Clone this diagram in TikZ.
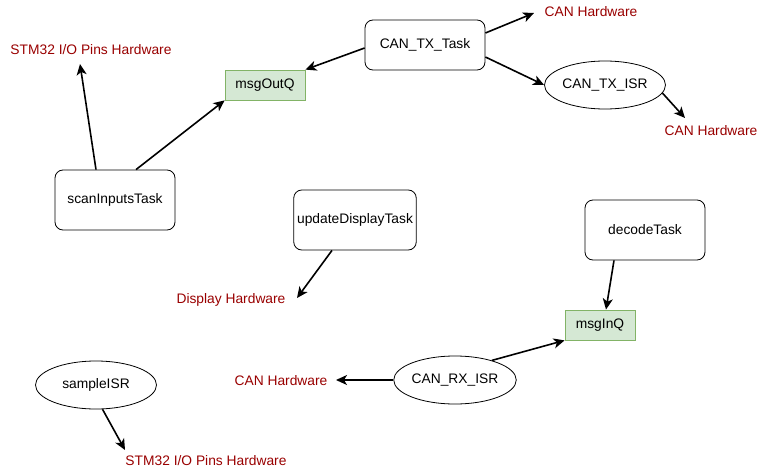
\documentclass[tikz,border=0pt]{standalone}
\usepackage{fontspec}
\setmainfont{Liberation Sans}
\usetikzlibrary{arrows.meta,shapes.geometric}
\definecolor{ink}{RGB}{0,0,0}
\definecolor{hwred}{RGB}{153,0,0}
\definecolor{qfill}{RGB}{213,232,212}
\definecolor{qdraw}{RGB}{130,179,102}
\tikzset{
  every picture/.style={x=1pt, y=-1pt, color=ink, font=\fontsize{13.8}{16}\selectfont},
  task/.style={draw=ink, rounded corners=8pt, line width=0.8pt, minimum width=120pt, minimum height=60pt, align=center},
  isr/.style={draw=ink, ellipse, line width=0.8pt, minimum width=121pt, minimum height=48pt, inner sep=0pt},
  queue/.style={draw=qdraw, fill=qfill, line width=0.8pt, minimum height=30pt, inner sep=0pt},
  hw/.style={text=hwred, inner sep=1pt},
  flow/.style={-{Stealth[length=11pt,width=10pt,inset=3pt]}, line width=1.6pt},
}

\begin{document}
\begin{tikzpicture}
  \useasboundingbox (0,0) rectangle (766,471);
  % tasks and ISRs
  \node[task] (scan) at (115,200) {scanInputsTask};
  \node[task, minimum height=50pt] (txtask) at (425,45) {CAN\_TX\_Task};
  \node[task] (disp) at (355,220) {updateDisplayTask};
  \node[task] (decode) at (645,230) {decodeTask};
  \node[isr] (txisr) at (605,85) {CAN\_TX\_ISR};
  \node[isr] (rxisr) at (455,380) {CAN\_RX\_ISR};
  \node[isr] (sample) at (96,385) {sampleISR};
  % queues
  \node[queue, minimum width=80pt] (outq) at (265,85) {msgOutQ};
  \node[queue, minimum width=70pt] (inq) at (600,325) {msgInQ};
  % hardware
  \node[hw] (pinsA) at (91,50) {STM32 I/O Pins Hardware};
  \node[hw] (canA) at (591,12) {CAN Hardware};
  \node[hw] (canB) at (711,131) {CAN Hardware};
  \node[hw] (dispHw) at (231,300) {Display Hardware};
  \node[hw] (canC) at (281,381) {CAN Hardware};
  \node[hw] (pinsB) at (206,461) {STM32 I/O Pins Hardware};
  \coordinate (toPinsA) at (80,64);
  \coordinate (toCanA) at (534,13);
  \coordinate (toCanB) at (685,118);
  \coordinate (toDispHw) at (297,298);
  \coordinate (toCanC) at (336,380);
  \coordinate (toPinsB) at (125,450);
  % connectors
  \draw[flow] ([xshift=-19pt]scan.north) -- (toPinsA);
  \draw[flow] ([xshift=21pt]scan.north) -- (outq.south west);
  \draw[flow] ([yshift=-3pt]txtask.west) -- (outq.north east);
  \draw[flow] ([yshift=12pt]txtask.east) -- (toCanA);
  \draw[flow] ([yshift=-12pt]txtask.east) -- (txisr.west);
  \draw[flow] (txisr.-8) -- (toCanB);
  \draw[flow] ([xshift=-23pt]disp.south) -- (toDispHw);
  \draw[flow] ([xshift=-31pt]decode.south) -- ([xshift=6pt]inq.north);
  \draw[flow] (rxisr.28) -- (inq.south west);
  \draw[flow] (rxisr.west) -- (toCanC);
  \draw[flow] (sample.-75) -- (toPinsB);
\end{tikzpicture}
\end{document}
